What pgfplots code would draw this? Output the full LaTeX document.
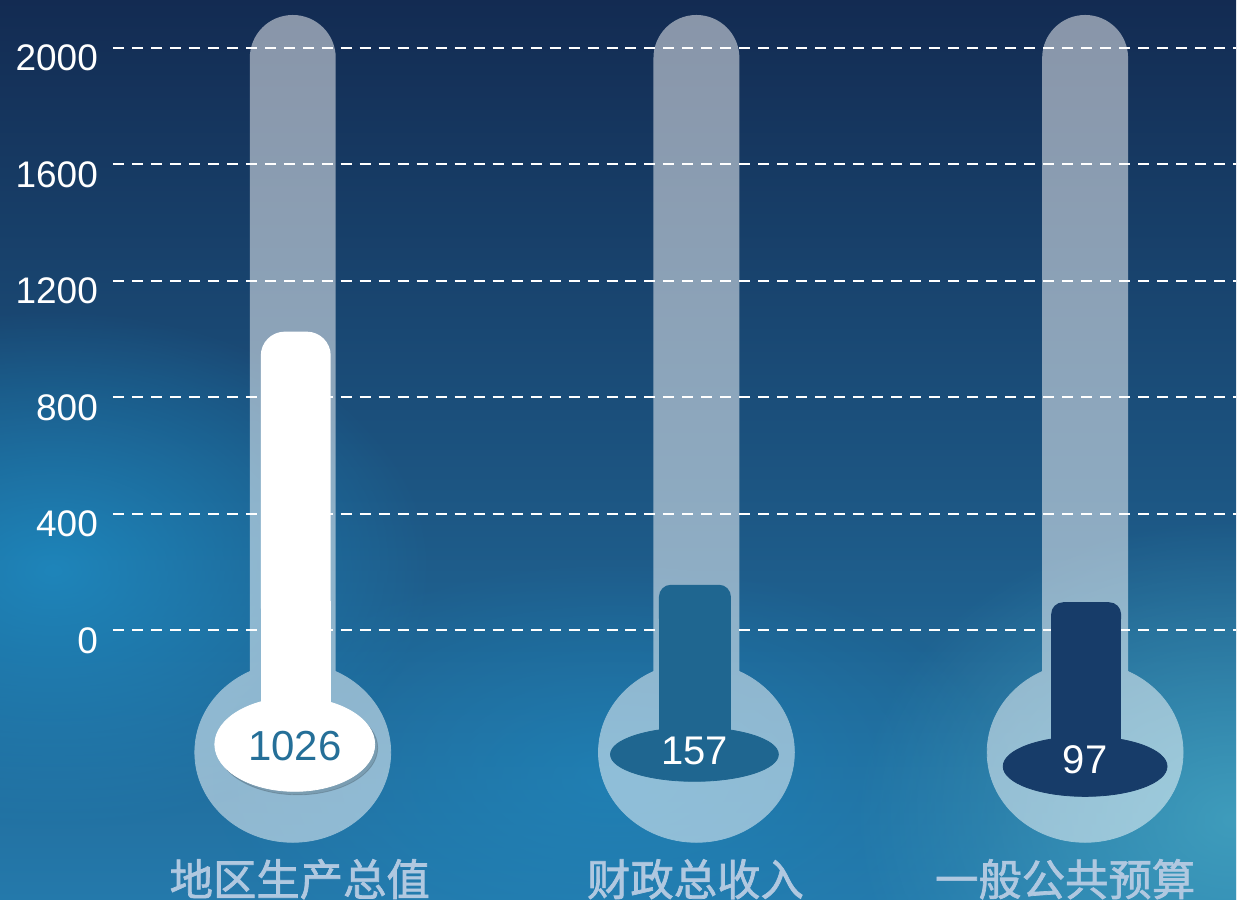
\documentclass[border=0pt]{standalone}
\usepackage{fontspec}
\setmainfont{Liberation Sans}
\newfontfamily\cjk{Noto Sans CJK SC}[FakeBold=1.6]
\usepackage{pgfplots}
\pgfplotsset{compat=1.18}
\usetikzlibrary{fadings}

\definecolor{bgtop}{HTML}{132B52}
\definecolor{bgmid}{HTML}{19487A}
\definecolor{bgbot}{HTML}{2479AB}
\definecolor{glowl}{HTML}{1E8FC6}
\definecolor{glowr}{HTML}{48AAC4}
\definecolor{barmid}{HTML}{1F6690}
\definecolor{bardark}{HTML}{173C69}
\definecolor{valblue}{HTML}{256F98}
\definecolor{catcol}{HTML}{B0C8E0}

\tikzfading[name=softglow, inner color=transparent!0, outer color=transparent!100]

% x in reference pixels, y in data units (0 -> px 631, 2000 -> px 48)
\pgfplotsset{thermo/.style={
    scale only axis, width=562pt, height=450pt,
    xmin=113, xmax=1237, ymin=-922.81, ymax=2164.65,
  }}

\begin{document}
\begin{tikzpicture}
  \shade[top color=bgtop, middle color=bgmid, bottom color=bgbot]
    (-56.5pt,0) rectangle (562pt,450pt);
  \begin{scope}
    \clip (-56.5pt,0) rectangle (562pt,450pt);
    \fill[glowl, opacity=0.8, path fading=softglow]
      (-30pt,165pt) ellipse (190pt and 130pt);
    \fill[glowl, opacity=0.5, path fading=softglow]
      (250pt,60pt) ellipse (200pt and 110pt);
    \fill[glowr, opacity=0.75, path fading=softglow]
      (560pt,40pt) ellipse (190pt and 150pt);
  \end{scope}

  % glass tubes and bulbs, one translucent group
  \begin{scope}[transparency group, opacity=0.5]
    \begin{axis}[thermo, hide axis]
      \addplot[white, line width=43pt, line cap=round, mark=none]
        coordinates {(293,-305) (293,1965.7)};
      \addplot[white, line width=43pt, line cap=round, mark=none]
        coordinates {(697,-305) (697,1965.7)};
      \addplot[white, line width=43pt, line cap=round, mark=none]
        coordinates {(1086,-305) (1086,1965.7)};
      \addplot[white, only marks, mark=*, mark size=49pt,
        mark options={fill=white, draw=white, yscale=0.918}]
        coordinates {(293,-418.5) (697,-418.5) (1086,-418.5)};
    \end{axis}
  \end{scope}

  \begin{axis}[thermo,
      axis line style={draw=none}, tick style={draw=none},
      xtick=\empty, ytick={0,400,...,2000},
      ymajorgrids,
      grid style={white, line width=1pt, dash pattern=on 5.5pt off 4pt},
      yticklabel style={font=\fontsize{18.5}{20}\selectfont, text=white,
        yshift=-5pt, xshift=-4pt},
      /pgf/number format/assume math mode=true,
      /pgf/number format/1000 sep={},
      nodes near coords align={center},
    ]
    % bars
    \addplot[ybar, bar width=35pt, fill=white, draw=none, rounded corners=12pt]
      coordinates {(296,1026)};
    \addplot[white, line width=35pt, mark=none] coordinates {(296,-391) (296,100)};
    \addplot[ybar, bar width=36pt, fill=barmid, draw=none, rounded corners=6pt]
      coordinates {(695.5,157)};
    \addplot[barmid, line width=36pt, mark=none] coordinates {(695.5,-425) (695.5,60)};
    \addplot[ybar, bar width=35pt, fill=bardark, draw=none, rounded corners=6pt]
      coordinates {(1087,97)};
    \addplot[bardark, line width=35pt, mark=none] coordinates {(1087,-466) (1087,40)};

    % pools with their values
    \addplot[black, opacity=0.15, only marks, mark=*, mark size=40pt,
      mark options={yscale=0.5875}]
      coordinates {(298,-403)};
    \addplot[white, only marks, mark=*, mark size=40pt,
      mark options={fill=white, yscale=0.5875},
      point meta=explicit symbolic, nodes near coords,
      every node near coord/.append style={text=valblue,
        font=\fontsize{21}{22}\selectfont, yshift=-1pt}]
      coordinates {(295,-391) [1026]};
    \addplot[barmid, only marks, mark=*, mark size=42pt,
      mark options={fill=barmid, yscale=0.321},
      point meta=explicit symbolic, nodes near coords,
      every node near coord/.append style={text=white,
        font=\fontsize{20}{22}\selectfont, yshift=1.5pt}]
      coordinates {(695,-425.4) [157]};
    \addplot[bardark, only marks, mark=*, mark size=41pt,
      mark options={fill=bardark, yscale=0.366},
      point meta=explicit symbolic, nodes near coords,
      every node near coord/.append style={text=white,
        font=\fontsize{20}{22}\selectfont, yshift=3.5pt}]
      coordinates {(1086,-466.6) [97]};

    \node[text=catcol, font=\cjk\fontsize{21.7}{22}\selectfont] at (axis cs:300,-854) {地区生产总值};
    \node[text=catcol, font=\cjk\fontsize{21.7}{22}\selectfont] at (axis cs:696,-854) {财政总收入};
    \node[text=catcol, font=\cjk\fontsize{21.7}{22}\selectfont] at (axis cs:1066,-854) {一般公共预算};
  \end{axis}
\end{tikzpicture}
\end{document}
